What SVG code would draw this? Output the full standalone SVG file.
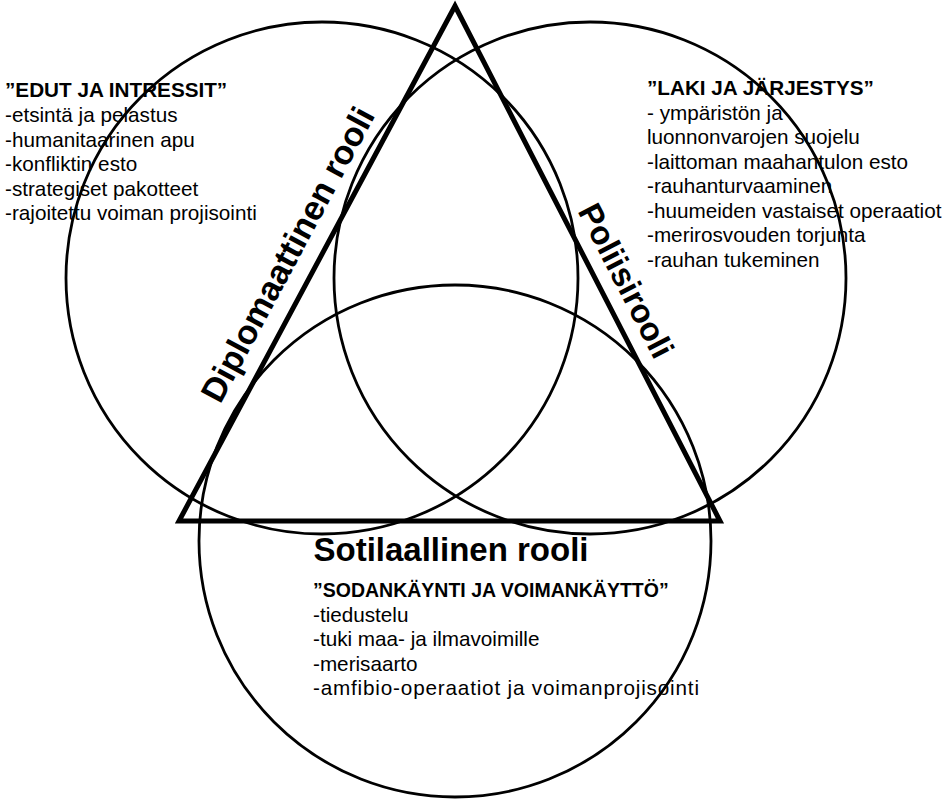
<svg xmlns="http://www.w3.org/2000/svg" width="947" height="799" viewBox="0 0 947 799">
<style>
.c{fill:none;stroke:#000;stroke-width:2.8}
.tri{fill:none;stroke:#000;stroke-width:5;stroke-linejoin:miter}
text{font-family:"Liberation Sans",Arial,sans-serif;fill:#000}
.t{font-size:20.7px}
.h{font-size:20.7px;font-weight:bold}
.big{font-size:33px;font-weight:bold}
</style>
<rect width="947" height="799" fill="#fff"/>
<g id="circles">
<circle id="circle-left" class="c" cx="322" cy="278" r="256"/>
<circle id="circle-right" class="c" cx="590" cy="278" r="256"/>
<circle id="circle-bottom" class="c" cx="455" cy="541" r="256"/>
</g>
<g id="triangle">
<polygon class="tri" points="455,6 179,521 720,521"/>
</g>
<g id="diplomaattinen">
<text class="big" style="font-size:34px" text-anchor="middle" transform="translate(298,260) rotate(-61.8)">Diplomaattinen rooli</text>
<text class="h" x="5" y="97">”EDUT JA INTRESSIT”</text>
<text class="t" x="5" y="122">-etsintä ja pelastus</text>
<text class="t" x="5" y="146.5">-humanitaarinen apu</text>
<text class="t" x="5" y="171">-konfliktin esto</text>
<text class="t" x="5" y="195.5">-strategiset pakotteet</text>
<text class="t" x="5" y="220">-rajoitettu voiman projisointi</text>
</g>
<g id="poliisi">
<text class="big" text-anchor="middle" transform="translate(616,286) rotate(62.7)">Poliisirooli</text>
<text class="h" x="647" y="95">”LAKI JA JÄRJESTYS”</text>
<text class="t" x="647" y="120">- ympäristön ja</text>
<text class="t" x="647" y="144">luonnonvarojen suojelu</text>
<text class="t" x="647" y="169">-laittoman maahantulon esto</text>
<text class="t" x="647" y="193">-rauhanturvaaminen</text>
<text class="t" x="647" y="218">-huumeiden vastaiset operaatiot</text>
<text class="t" x="647" y="242">-merirosvouden torjunta</text>
<text class="t" x="647" y="267">-rauhan tukeminen</text>
</g>
<g id="sotilaallinen">
<text class="big" x="451" y="561" text-anchor="middle">Sotilaallinen rooli</text>
<text class="h" x="313" y="597" style="font-size:19.5px">”SODANKÄYNTI JA VOIMANKÄYTTÖ”</text>
<text class="t" x="313" y="622">-tiedustelu</text>
<text class="t" x="313" y="646">-tuki maa- ja ilmavoimille</text>
<text class="t" x="313" y="671">-merisaarto</text>
<text class="t" x="313" y="695" textLength="386" lengthAdjust="spacing">-amfibio-operaatiot ja voimanprojisointi</text>
</g>
</svg>
